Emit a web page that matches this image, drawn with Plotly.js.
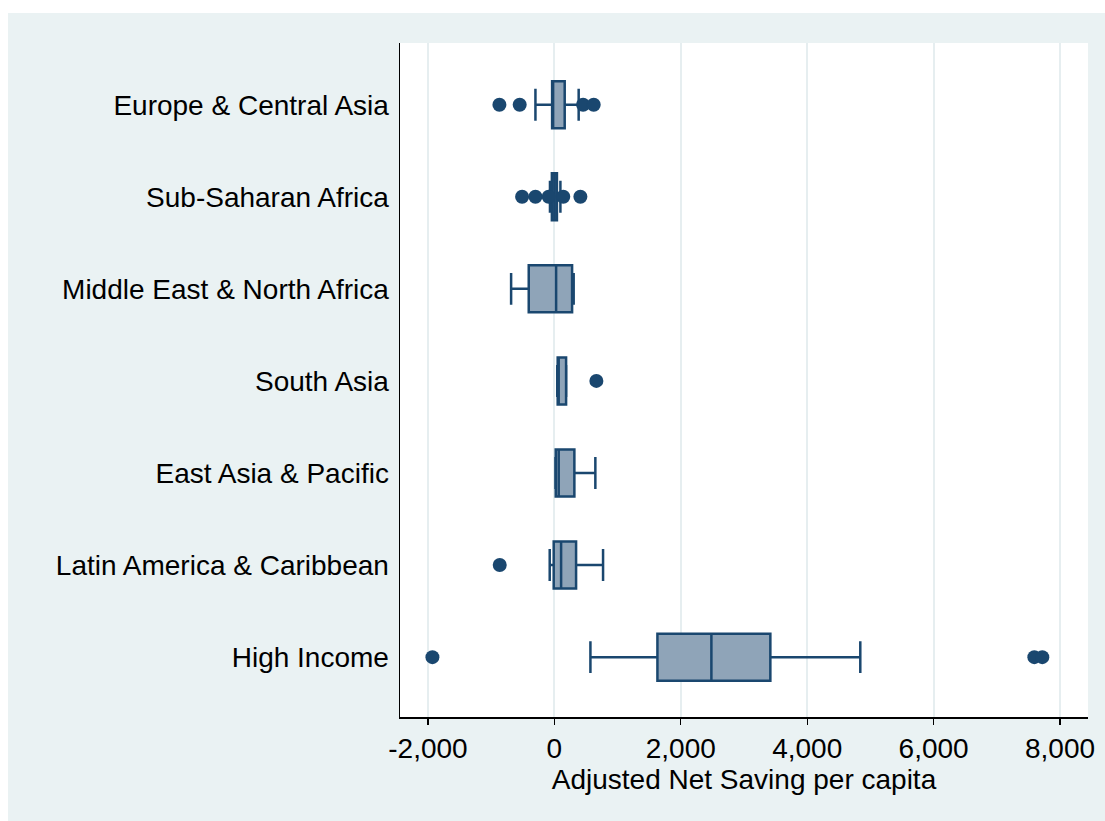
<!DOCTYPE html>
<html>
<head>
<meta charset="utf-8">
<script src="https://cdn.plot.ly/plotly-3.0.1.min.js"></script>
<style>
  html, body { margin: 0; padding: 0; background: #ffffff; width: 1105px; height: 821px; overflow: hidden; }
  #chart { position: absolute; left: 8px; top: 13px; width: 1097px; height: 808px; }
</style>
</head>
<body>
<div id="chart"></div>
<script>
// Regions (top to bottom)
const categories = [
  "Europe & Central Asia",
  "Sub-Saharan Africa",
  "Middle East & North Africa",
  "South Asia",
  "East Asia & Pacific",
  "Latin America & Caribbean",
  "High Income"
];

// Box summary statistics (Adjusted Net Saving per capita)
const lowerWhisker = [-300, -70, -685, 45, 16, -74, 570];
const q1Values     = [-36, -40, -406, 52, 21, -11, 1630];
const medianValues = [-30, 0, 27, 63, 68, 106, 2484];
const q3Values     = [163, 40, 280, 185, 316, 343, 3417];
const upperWhisker = [384, 95, 305, 188, 648, 770, 4840];

// Outside values
const outlierRegion = [
  "Europe & Central Asia", "Europe & Central Asia", "Europe & Central Asia", "Europe & Central Asia",
  "Sub-Saharan Africa", "Sub-Saharan Africa", "Sub-Saharan Africa", "Sub-Saharan Africa", "Sub-Saharan Africa",
  "South Asia",
  "Latin America & Caribbean",
  "High Income", "High Income", "High Income"
];
const outlierValue = [
  -870, -549, 454, 622,
  -511, -300, -90, 140, 411,
  664,
  -865,
  -1930, 7594, 7720
];

const xTickValues = [-2000, 0, 2000, 4000, 6000, 8000];
const xTickLabels = ["-2,000", "0", "2,000", "4,000", "6,000", "8,000"];

const navy = "#1A476F";
const boxFill = "#8FA4B8";
const font = "Liberation Sans, Arial, Helvetica, sans-serif";

const boxTrace = {
  type: "box",
  orientation: "h",
  y: categories,
  q1: q1Values,
  median: medianValues,
  q3: q3Values,
  lowerfence: lowerWhisker,
  upperfence: upperWhisker,
  boxpoints: false,
  fillcolor: boxFill,
  line: { color: navy, width: 2.5 },
  width: 0.51,
  whiskerwidth: 0.68,
  hoverinfo: "skip",
  showlegend: false
};

const outlierTrace = {
  type: "scatter",
  mode: "markers",
  x: outlierValue,
  y: outlierRegion,
  marker: { color: navy, size: 14, line: { width: 0 } },
  hoverinfo: "skip",
  showlegend: false
};

const layout = {
  width: 1097,
  height: 808,
  paper_bgcolor: "#EAF2F3",
  plot_bgcolor: "#FFFFFF",
  margin: { l: 392, r: 17, t: 30, b: 104 },
  showlegend: false,
  font: { family: font, color: "#000000", size: 28 },
  xaxis: {
    range: [-2443, 8443],
    tickvals: xTickValues,
    ticktext: xTickLabels,
    ticks: "outside",
    ticklen: 6,
    tickwidth: 1.2,
    tickcolor: "#000000",
    tickfont: { family: font, size: 28, color: "#000000" },
    showgrid: true,
    gridcolor: "#E6EEF0",
    gridwidth: 2,
    zeroline: false,
    showline: true,
    linecolor: "#000000",
    linewidth: 1.5,
    title: { text: "Adjusted Net Saving per capita", font: { family: font, size: 28, color: "#000000" }, standoff: 0 }
  },
  yaxis: {
    type: "category",
    categoryorder: "array",
    categoryarray: categories,
    range: [6.65, -0.67],
    ticks: "",
    ticklabelstandoff: 4,
    tickfont: { family: font, size: 28, color: "#000000" },
    showgrid: false,
    zeroline: false,
    showline: true,
    linecolor: "#000000",
    linewidth: 1.5
  }
};

Plotly.newPlot("chart", [boxTrace, outlierTrace], layout, { displayModeBar: false, staticPlot: true });
</script>
</body>
</html>
